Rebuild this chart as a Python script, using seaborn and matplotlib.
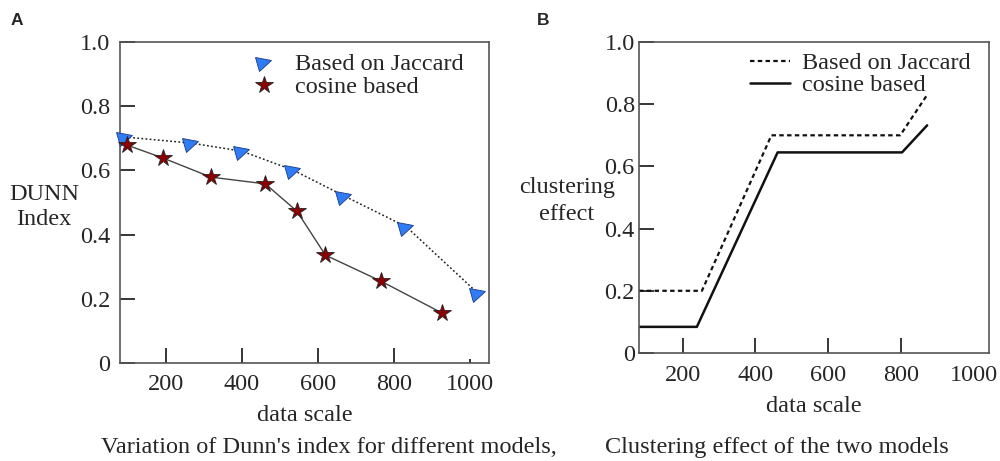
#!/usr/bin/env python3

import numpy as np
import pandas as pd
import matplotlib
matplotlib.use("Agg")
import matplotlib.pyplot as plt
from matplotlib.markers import MarkerStyle
from matplotlib.transforms import Affine2D
from matplotlib.lines import Line2D
import seaborn as sns

# ----------------------------- Data ---------------------------------------
# Panel A: Dunn's index
jaccard_x = [93, 267, 400, 535, 670, 833, 1020]
jaccard_y = [0.704, 0.685, 0.660, 0.601, 0.520, 0.424, 0.218]
cosine_x = [98, 192, 319, 462, 545, 620, 766, 926]
cosine_y = [0.679, 0.639, 0.579, 0.558, 0.473, 0.336, 0.255, 0.156]

# Panel B: clustering effect
eff_jaccard_x = [80, 253, 444, 798, 872]
eff_jaccard_y = [0.20, 0.20, 0.70, 0.70, 0.83]
eff_cosine_x = [80, 239, 461, 803, 872]
eff_cosine_y = [0.084, 0.084, 0.645, 0.645, 0.732]

x_ticks = [200, 400, 600, 800, 1000]
y_ticks = [0, 0.2, 0.4, 0.6, 0.8, 1.0]
y_tick_labels = ["0", "0.2", "0.4", "0.6", "0.8", "1.0"]

if __name__ == "__main__":

    sns.set_theme(style="white")
    plt.rcParams["font.family"] = ["Liberation Serif", "DejaVu Serif"]
    FS = 17.5

    fig = plt.figure(figsize=(10, 4.61), dpi=100)
    ax_a = fig.add_axes([0.12, 0.2126, 0.369, 0.6963])
    ax_b = fig.add_axes([0.639, 0.2343, 0.350, 0.6746])

    def style_axes(ax, xpad, ypad):
        ax.set_xlim(80, 1050)
        ax.set_ylim(0, 1.0)
        ax.set_xticks(x_ticks)
        ax.set_yticks(y_ticks)
        ax.set_yticklabels(y_tick_labels)
        ax.tick_params(direction="in", length=11, width=1.1, color="black",
                       labelsize=FS, left=True, bottom=True)
        ax.tick_params(axis="x", pad=xpad)
        ax.tick_params(axis="y", pad=ypad)
        for sp in ax.spines.values():
            sp.set_color("#555555")
            sp.set_linewidth(1.2)
        ax.set_xlabel("data scale", fontsize=FS, labelpad=7)
        ax.set_ylabel("")

    # ----------------------------- Panel A --------------------------------
    df_j = pd.DataFrame({"x": jaccard_x, "y": jaccard_y})
    df_c = pd.DataFrame({"x": cosine_x, "y": cosine_y})

    tri = MarkerStyle("^", transform=Affine2D().rotate_deg(-75))
    tri_kw = dict(marker=tri, markersize=11, markerfacecolor="#2f7cf6",
                  markeredgecolor="#1a3a80", markeredgewidth=0.6)
    star_kw = dict(marker="*", markersize=13, markerfacecolor="#8b0000",
                   markeredgecolor="#222222", markeredgewidth=0.6)

    sns.lineplot(data=df_j, x="x", y="y", ax=ax_a, color="#222222",
                 linestyle=(0, (1.2, 1.5)), linewidth=1.1, sort=False)
    sns.lineplot(data=df_c, x="x", y="y", ax=ax_a, color="#444444",
                 linewidth=1.0, sort=False)
    ax_a.plot(df_j["x"], df_j["y"], linestyle="none", clip_on=False,
              zorder=5, **tri_kw)
    ax_a.plot(df_c["x"], df_c["y"], linestyle="none", clip_on=False,
              zorder=5, **star_kw)
    style_axes(ax_a, xpad=8, ypad=7)
    ax_a.xaxis.get_major_ticks()[-1].tick1line.set_markersize(3)
    fig.text(0.044, 0.551, "DUNN\nIndex", fontsize=FS, ha="center",
             va="center", linespacing=1.28)

    handles_a = [
        Line2D([], [], linestyle="none", **tri_kw),
        Line2D([], [], linestyle="none", **star_kw),
    ]
    ax_a.legend(handles_a, ["Based on Jaccard", "cosine based"],
                loc="upper left", bbox_to_anchor=(0.33, 0.996), frameon=False,
                fontsize=FS, handlelength=1.0, handletextpad=0.8,
                labelspacing=0.05, borderaxespad=0)

    # ----------------------------- Panel B --------------------------------
    df_ej = pd.DataFrame({"x": eff_jaccard_x, "y": eff_jaccard_y})
    df_ec = pd.DataFrame({"x": eff_cosine_x, "y": eff_cosine_y})

    sns.lineplot(data=df_ej, x="x", y="y", ax=ax_b, color="#111111",
                 linestyle=(0, (2.0, 1.5)), linewidth=1.6, sort=False,
                 label="Based on Jaccard")
    sns.lineplot(data=df_ec, x="x", y="y", ax=ax_b, color="#111111",
                 linewidth=1.8, sort=False, label="cosine based")
    style_axes(ax_b, xpad=9, ypad=3)
    ax_b.set_xlim(80, 1042)
    ax_b.xaxis.get_major_ticks()[-1].tick1line.set_visible(False)
    fig.text(0.567, 0.564, "clustering\neffect", fontsize=FS, ha="center",
             va="center", linespacing=1.35)
    ax_b.legend(loc="upper left", bbox_to_anchor=(0.289, 0.998), frameon=False,
                fontsize=FS, handlelength=1.65, handletextpad=0.5,
                labelspacing=0.0, borderaxespad=0)

    # ----------------------------- Labels ---------------------------------
    fig.text(0.011, 0.946, "A", fontsize=12.5, fontweight="bold",
             family="Liberation Sans", va="baseline")
    fig.text(0.537, 0.946, "B", fontsize=12.5, fontweight="bold",
             family="Liberation Sans", va="baseline")
    fig.text(0.329, 0.017, "Variation of Dunn's index for different models,",
             fontsize=FS, ha="center", va="baseline")
    fig.text(0.777, 0.017, "Clustering effect of the two models",
             fontsize=FS, ha="center", va="baseline")

    fig.savefig("out.png", dpi=100)
    plt.close(fig)
